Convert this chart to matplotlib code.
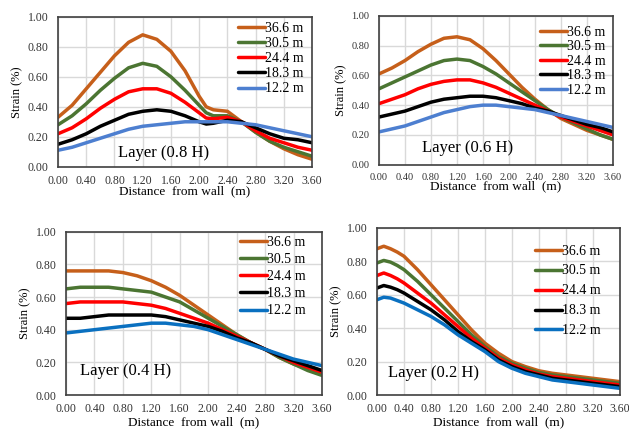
import numpy as np
import matplotlib
matplotlib.use("Agg")
import matplotlib.pyplot as plt

plt.rcParams['font.family'] = ['Liberation Serif', 'DejaVu Serif']

heights = ["36.6 m", "30.5 m", "24.4 m", "18.3 m", "12.2 m"]

# distance from wall (m)
dist_08 = [0.0, 0.2, 0.4, 0.6, 0.8, 1.0, 1.2, 1.4, 1.6, 1.8,
           2.0, 2.1, 2.2, 2.4, 2.6, 2.8, 3.0, 3.2, 3.4, 3.6]
dist_std = [0.0, 0.2, 0.4, 0.6, 0.8, 1.0, 1.2, 1.4, 1.6, 1.8,
            2.0, 2.2, 2.4, 2.6, 2.8, 3.0, 3.2, 3.4, 3.6]
dist_02 = [0.0, 0.1, 0.2, 0.3, 0.4, 0.6, 0.8, 1.0, 1.2, 1.4, 1.6, 1.8,
           2.0, 2.2, 2.4, 2.6, 2.8, 3.0, 3.2, 3.4, 3.6]

# Layer 0.8 H
l08_366 = [0.33, 0.41, 0.52, 0.63, 0.74, 0.83, 0.88, 0.85, 0.77, 0.64, 0.47, 0.40, 0.38, 0.37, 0.30, 0.23, 0.17, 0.12, 0.08, 0.05]
l08_305 = [0.28, 0.34, 0.42, 0.51, 0.59, 0.66, 0.69, 0.67, 0.60, 0.51, 0.41, 0.36, 0.34, 0.34, 0.30, 0.23, 0.17, 0.13, 0.10, 0.07]
l08_244 = [0.22, 0.26, 0.32, 0.39, 0.45, 0.50, 0.52, 0.52, 0.49, 0.43, 0.36, 0.325, 0.32, 0.33, 0.30, 0.24, 0.19, 0.16, 0.13, 0.11]
l08_183 = [0.15, 0.18, 0.22, 0.27, 0.31, 0.35, 0.37, 0.38, 0.37, 0.34, 0.30, 0.285, 0.29, 0.31, 0.30, 0.26, 0.22, 0.19, 0.18, 0.16]
l08_122 = [0.11, 0.13, 0.16, 0.19, 0.22, 0.25, 0.27, 0.28, 0.29, 0.30, 0.30, 0.30, 0.30, 0.30, 0.29, 0.28, 0.26, 0.24, 0.22, 0.20]

# Layer 0.6 H
l06_366 = [0.61, 0.65, 0.70, 0.76, 0.81, 0.85, 0.86, 0.84, 0.78, 0.70, 0.61, 0.52, 0.44, 0.37, 0.31, 0.27, 0.23, 0.20, 0.17]
l06_305 = [0.51, 0.55, 0.59, 0.63, 0.67, 0.70, 0.71, 0.70, 0.66, 0.61, 0.55, 0.49, 0.43, 0.37, 0.32, 0.28, 0.24, 0.20, 0.17]
l06_244 = [0.41, 0.44, 0.47, 0.51, 0.54, 0.56, 0.57, 0.57, 0.55, 0.52, 0.48, 0.44, 0.40, 0.36, 0.32, 0.29, 0.26, 0.23, 0.20]
l06_183 = [0.32, 0.34, 0.36, 0.39, 0.42, 0.44, 0.45, 0.46, 0.46, 0.45, 0.43, 0.41, 0.38, 0.36, 0.33, 0.30, 0.27, 0.25, 0.22]
l06_122 = [0.22, 0.24, 0.26, 0.29, 0.32, 0.35, 0.37, 0.39, 0.40, 0.40, 0.39, 0.38, 0.37, 0.35, 0.33, 0.31, 0.29, 0.27, 0.25]

# Layer 0.4 H
l04_366 = [0.76, 0.76, 0.76, 0.76, 0.75, 0.73, 0.70, 0.66, 0.61, 0.55, 0.49, 0.43, 0.37, 0.32, 0.28, 0.23, 0.19, 0.16, 0.13]
l04_305 = [0.65, 0.66, 0.66, 0.66, 0.65, 0.64, 0.63, 0.60, 0.57, 0.52, 0.47, 0.42, 0.37, 0.32, 0.28, 0.23, 0.19, 0.15, 0.12]
l04_244 = [0.56, 0.57, 0.57, 0.57, 0.57, 0.56, 0.55, 0.53, 0.50, 0.47, 0.44, 0.40, 0.36, 0.32, 0.28, 0.24, 0.20, 0.17, 0.14]
l04_183 = [0.47, 0.47, 0.48, 0.49, 0.49, 0.49, 0.49, 0.48, 0.46, 0.44, 0.42, 0.39, 0.35, 0.32, 0.28, 0.24, 0.21, 0.18, 0.15]
l04_122 = [0.38, 0.39, 0.40, 0.41, 0.42, 0.43, 0.44, 0.44, 0.43, 0.42, 0.40, 0.37, 0.34, 0.31, 0.28, 0.25, 0.22, 0.20, 0.18]

# Layer 0.2 H
l02_366 = [0.875, 0.89, 0.875, 0.855, 0.83, 0.75, 0.66, 0.57, 0.48, 0.39, 0.31, 0.25, 0.20, 0.17, 0.145, 0.13, 0.12, 0.11, 0.10, 0.09, 0.08]
l02_305 = [0.79, 0.805, 0.795, 0.775, 0.75, 0.68, 0.60, 0.52, 0.44, 0.36, 0.29, 0.23, 0.19, 0.16, 0.135, 0.12, 0.11, 0.10, 0.09, 0.08, 0.07]
l02_244 = [0.715, 0.73, 0.715, 0.695, 0.67, 0.61, 0.55, 0.48, 0.41, 0.34, 0.28, 0.22, 0.18, 0.15, 0.125, 0.11, 0.10, 0.09, 0.08, 0.07, 0.06]
l02_183 = [0.64, 0.655, 0.645, 0.63, 0.61, 0.56, 0.51, 0.45, 0.38, 0.32, 0.27, 0.21, 0.17, 0.14, 0.12, 0.10, 0.09, 0.08, 0.07, 0.06, 0.05]
l02_122 = [0.57, 0.585, 0.58, 0.565, 0.55, 0.51, 0.47, 0.42, 0.36, 0.31, 0.26, 0.20, 0.16, 0.13, 0.11, 0.09, 0.08, 0.07, 0.06, 0.05, 0.04]

x_ticks = [0.0, 0.4, 0.8, 1.2, 1.6, 2.0, 2.4, 2.8, 3.2, 3.6]
y_ticks = [0.0, 0.2, 0.4, 0.6, 0.8, 1.0]

colors_top = ['#C65F1A', '#4B7532', '#FF0000', '#000000', '#4D7FD0']
colors_bot = ['#C65F1A', '#4B7532', '#FF0000', '#000000', '#0A70C0']

panels = [
    # x, series, layer text, axes rect, colors, text pos, legend anchor, tick size, legend spacing, xlabel pad
    (dist_08, [l08_366, l08_305, l08_244, l08_183, l08_122], "Layer (0.8 H)",
     [0.0922, 0.614, 0.404, 0.347], colors_top, (1.50, 0.09), (0.709, 0.965), 8.5, 0.15, -1),
    (dist_std, [l06_366, l06_305, l06_244, l06_183, l06_122], "Layer (0.6 H)",
     [0.6025, 0.619, 0.372, 0.344], colors_top, (1.36, 0.11), (0.688, 0.935), 7.5, 0.11, -1),
    (dist_std, [l04_366, l04_305, l04_244, l04_183, l04_122], "Layer (0.4 H)",
     [0.1049, 0.0856, 0.407, 0.378], colors_bot, (0.84, 0.15), (0.680, 0.975), 8.5, 0.3, 1),
    (dist_02, [l02_366, l02_305, l02_244, l02_183, l02_122], "Layer (0.2 H)",
     [0.5994, 0.0856, 0.386, 0.387], colors_bot, (0.83, 0.13), (0.650, 0.90), 8.5, 0.5, 1),
]

fig = plt.figure(figsize=(6.29, 4.32), dpi=100)

for dist, series, layer, rect, colors, txt_pos, leg_pos, tsize, lspace, xpad in panels:
    ax = fig.add_axes(rect)
    for vals, lab, col in zip(series, heights, colors):
        ax.plot(dist, vals, color=col, lw=2.5, label=lab, solid_capstyle='round')
    ax.set_xlim(0, 3.6)
    ax.set_ylim(0, 1.0)
    ax.set_xticks(x_ticks)
    ax.set_yticks(y_ticks)
    ax.set_xticklabels([f"{v:.2f}" for v in x_ticks])
    ax.set_yticklabels([f"{v:.2f}" for v in y_ticks])
    ax.tick_params(length=0, labelsize=tsize, colors='#333333')
    ax.tick_params(axis='x', pad=6)
    ax.tick_params(axis='y', pad=7)
    ax.grid(True, color='#D9D9D9', lw=1.0)
    ax.set_axisbelow(True)
    for s in ax.spines.values():
        s.set_color('#404040')
        s.set_linewidth(1.2)
    ax.set_xlabel("Distance  from wall  (m)", fontsize=9.5, labelpad=xpad)
    ax.set_ylabel("Strain (%)", fontsize=9, labelpad=3)
    ax.text(txt_pos[0], txt_pos[1], layer, fontsize=12, ha='center', va='center')
    ax.legend(loc='upper left', bbox_to_anchor=leg_pos, frameon=False, fontsize=10,
              handlelength=1.95, handletextpad=0.0, labelspacing=lspace,
              borderpad=0, borderaxespad=0)

fig.savefig("out.png", dpi=100)
